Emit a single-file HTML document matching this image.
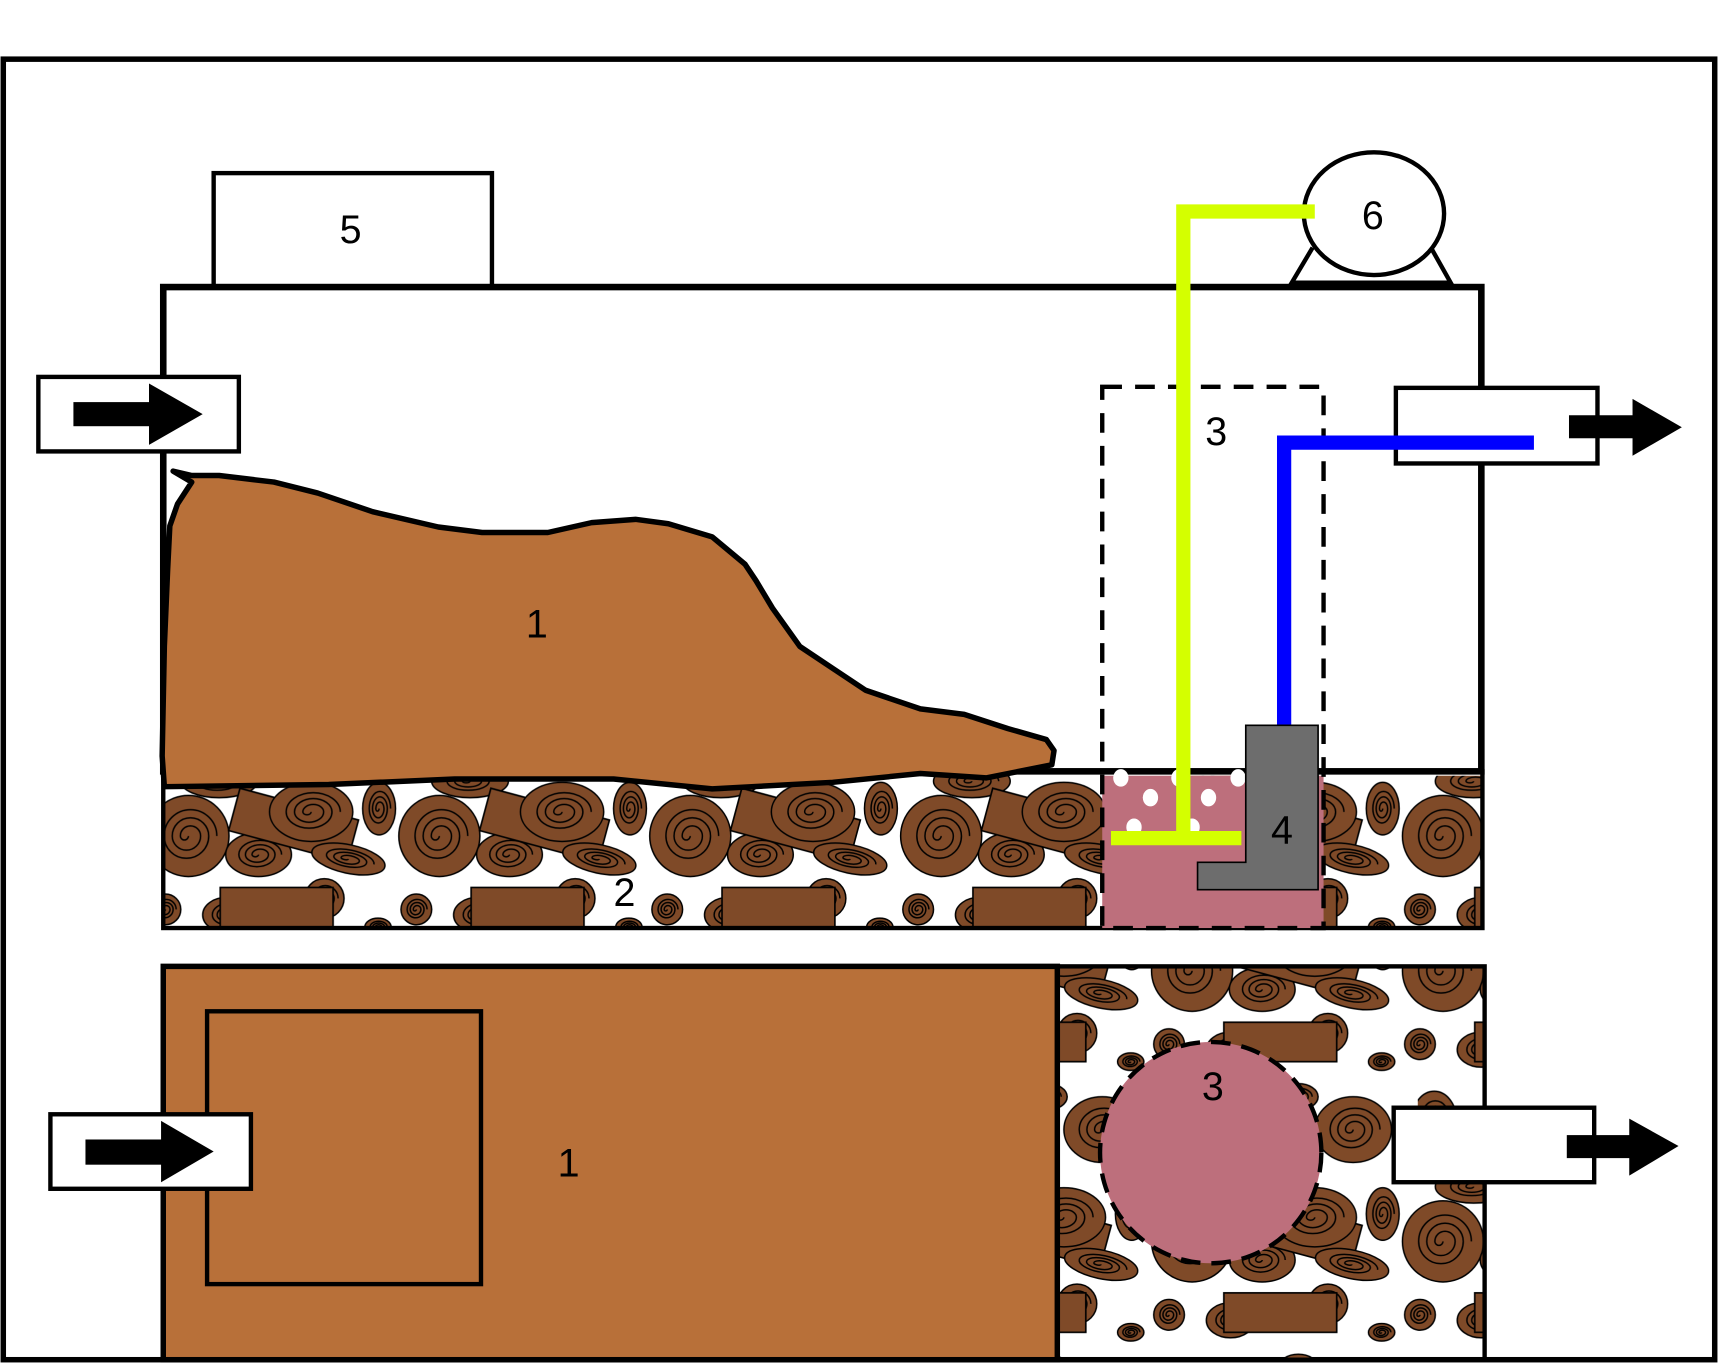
<!DOCTYPE html>
<html><head><meta charset="utf-8"><style>html,body{margin:0;padding:0;background:#fff}svg{display:block}</style></head>
<body>
<svg width="1718" height="1363" viewBox="0 0 1568 1244" xmlns="http://www.w3.org/2000/svg" font-family="Liberation Sans, sans-serif">
<defs>
<g id="log">
<circle r="1" fill="#7f4a28" stroke="#000" stroke-width="1.5" vector-effect="non-scaling-stroke"/>
<path d="M0,0 A0.1,0.1 0 0 1 -0.2,0 A0.25,0.25 0 0 1 0.3,0 A0.35,0.35 0 0 1 -0.4,0 A0.45,0.45 0 0 1 0.5,0 A0.55,0.55 0 0 1 -0.6,0 A0.65,0.65 0 0 1 0.7,0" fill="none" stroke="#000" stroke-width="1.5" vector-effect="non-scaling-stroke"/>
</g>
<g id="tile">
<use href="#log" transform="translate(51,5) scale(35,15)"/>
<use href="#log" transform="translate(23,55) scale(37,37)"/>
<use href="#log" transform="translate(252,55) scale(37,37)"/>
<use href="#log" transform="translate(87,72) scale(30,20)"/>
<rect x="-55" y="-20" width="112" height="40" fill="#7f4a28" stroke="#000" stroke-width="1.5" transform="translate(118,45) rotate(15)"/>
<use href="#log" transform="translate(135,33) scale(38,27)"/>
<use href="#log" transform="translate(169,76) rotate(12) scale(34,13)"/>
<use href="#log" transform="translate(197,30) scale(15,24)"/>
<use href="#log" transform="translate(147,112) scale(18,18)"/>
<use href="#log" transform="translate(2,122) scale(14,14)"/>
<use href="#log" transform="translate(231,122) scale(14,14)"/>
<use href="#log" transform="translate(58,127) scale(22,16)"/>
<rect x="52" y="102" width="103" height="36" fill="#7f4a28" stroke="#000" stroke-width="1.5"/>
<use href="#log" transform="translate(196,138) scale(12,8)"/>
<use href="#log" transform="translate(60,205) scale(30,22)"/>
<use href="#log" transform="translate(170,200) scale(35,30)"/>
<use href="#log" transform="translate(120,170) scale(18,12)"/>
<use href="#log" transform="translate(15,190) scale(20,25)"/>
</g>
<pattern id="g1" patternUnits="userSpaceOnUse" x="149" y="708" width="229" height="247"><use href="#tile"/></pattern>
<pattern id="g2" patternUnits="userSpaceOnUse" x="149" y="831" width="229" height="247"><use href="#tile"/></pattern>
</defs>
<rect width="1568" height="1244" fill="#fff"/>
<rect x="3" y="54" width="1562" height="1187" fill="none" stroke="#000" stroke-width="5"/>
<rect x="195" y="158" width="254" height="104" fill="#fff" stroke="#000" stroke-width="4"/>
<text x="320" y="222" font-size="36" text-anchor="middle">5</text>
<rect x="149" y="262" width="1203" height="442" fill="#fff" stroke="#000" stroke-width="6"/>
<rect x="149" y="704" width="1204" height="143" fill="url(#g1)" stroke="#000" stroke-width="4"/>
<rect x="1006" y="708" width="202" height="139" fill="#bd6f7c"/>
<g fill="#fff"><ellipse cx="1023" cy="710" rx="7" ry="8"/><ellipse cx="1050" cy="728" rx="7" ry="8"/><ellipse cx="1076" cy="710" rx="7" ry="8"/><ellipse cx="1103" cy="728" rx="7" ry="8"/><ellipse cx="1035" cy="755" rx="7" ry="8"/><ellipse cx="1088" cy="755" rx="7" ry="8"/><ellipse cx="1130" cy="710" rx="7" ry="8"/></g>
<polygon points="158,430 175,440 162,460 155,480 153,520 150,590 148,690 150,718 300,716 415,711 560,711 650,720 760,714 840,706 900,710 960,698 962,685 955,675 920,665 880,652 840,647 790,630 760,610 730,590 705,555 690,530 680,515 650,490 610,478 580,474 540,477 500,486 440,486 400,481 340,467 290,450 250,440 200,434 175,434" fill="#b87039" stroke="#000" stroke-width="5" stroke-linejoin="round"/>
<text x="490" y="582" font-size="36" text-anchor="middle">1</text>
<text x="570" y="827" font-size="36" text-anchor="middle">2</text>
<rect x="1006" y="353" width="202" height="494" fill="none" stroke="#000" stroke-width="4" stroke-dasharray="18,12"/>
<text x="1110" y="406" font-size="36" text-anchor="middle">3</text>
<polyline points="1198,226 1179,258 1324,258 1306,226" fill="none" stroke="#000" stroke-width="4"/>
<ellipse cx="1254" cy="195" rx="64" ry="56" fill="#fff" stroke="#000" stroke-width="4"/>
<text x="1253" y="209" font-size="36" text-anchor="middle">6</text>
<rect x="35" y="344" width="183" height="68" fill="#fff" stroke="#000" stroke-width="4"/>
<rect x="67" y="367" width="70" height="22"/><polygon points="136,350 185,378 136,406"/>
<rect x="1274" y="354" width="184" height="69" fill="#fff" stroke="#000" stroke-width="4"/>
<rect x="1432" y="379" width="59" height="21"/><polygon points="1490,364 1535,390 1490,416"/>
<polyline points="1200,193 1080,193 1080,765" fill="none" stroke="#d4ff00" stroke-width="13"/>
<line x1="1014" y1="765" x2="1133" y2="765" stroke="#d4ff00" stroke-width="13"/>
<polyline points="1172,662 1172,404 1400,404" fill="none" stroke="#0000ff" stroke-width="13"/>
<polygon points="1137,662 1203,662 1203,812 1093,812 1093,787 1137,787" fill="#6d6d6d" stroke="#000" stroke-width="1.5"/>
<text x="1170" y="770" font-size="36" text-anchor="middle">4</text>
<rect x="965" y="882" width="390" height="359" fill="url(#g2)" stroke="#000" stroke-width="4"/>
<rect x="149" y="882" width="816" height="359" fill="#b87039" stroke="#000" stroke-width="5"/>
<rect x="189" y="923" width="250" height="249" fill="none" stroke="#000" stroke-width="4"/>
<text x="519" y="1074" font-size="36" text-anchor="middle">1</text>
<circle cx="1105" cy="1052" r="101" fill="#bd6f7c" stroke="#000" stroke-width="4" stroke-dasharray="18,10"/>
<text x="1107" y="1004" font-size="36" text-anchor="middle">3</text>
<rect x="46" y="1017" width="183" height="68" fill="#fff" stroke="#000" stroke-width="4"/>
<rect x="78" y="1040" width="70" height="23"/><polygon points="147,1023 195,1051 147,1079"/>
<rect x="1272" y="1011" width="183" height="68" fill="#fff" stroke="#000" stroke-width="4"/>
<rect x="1430" y="1036" width="58" height="21"/><polygon points="1487,1021 1532,1046 1487,1073"/>
</svg>
</body></html>
